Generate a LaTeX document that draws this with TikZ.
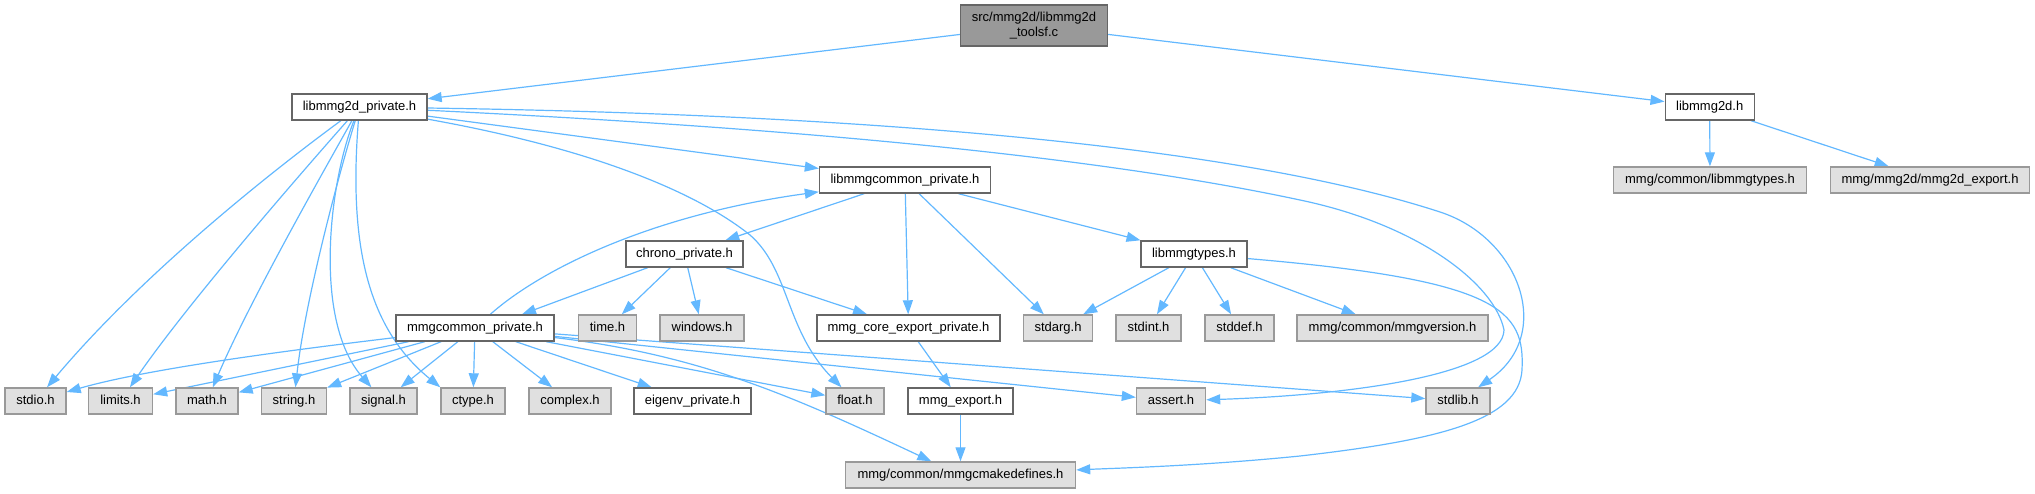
\documentclass[tikz,border=0pt]{standalone}
\usepackage{fontspec}
\setmainfont{Liberation Sans}
\usetikzlibrary{arrows.meta}
\definecolor{edgec}{HTML}{63B8FF}
\definecolor{darkb}{HTML}{666666}
\definecolor{lightb}{HTML}{999999}
\definecolor{grayfill}{HTML}{E0E0E0}
\definecolor{rootfill}{HTML}{999999}
\pgfdeclarelayer{bg}
\pgfsetlayers{bg,main}
\begin{document}
\begin{tikzpicture}[x=0.5pt,y=-0.5pt,
  font=\fontsize{6.5}{7.3}\selectfont,
  nbox/.style={line width=0.7pt, inner sep=0pt, minimum height=13pt, text height=4.7pt, text depth=1.4pt},
  wnode/.style={nbox, draw=darkb, fill=white},
  gnode/.style={nbox, draw=lightb, fill=grayfill},
  bw/.style={minimum width=#1*0.5pt},
  dep/.style={draw=edgec, line width=0.6pt, -{Triangle[length=7pt,width=5pt]}},
]
\useasboundingbox (0,0) rectangle (2035,493);
% nodes
\node[line width=0.7pt, inner sep=0pt, draw=darkb, fill=rootfill, bw=147, minimum height=20.5pt, align=center] (root) at (1034,25.5) {src/mmg2d/libmmg2d\\\_toolsf.c};
\node[wnode,bw=135] (l2dp) at (359.5,107) {libmmg2d\_private.h};
\node[wnode,bw=89] (l2d) at (1709.7,107) {libmmg2d.h};
\node[gnode,bw=193] (mlt) at (1710,180) {mmg/common/libmmgtypes.h};
\node[gnode,bw=199] (m2e) at (1930,180) {mmg/mmg2d/mmg2d\_export.h};
\node[wnode,bw=171] (lcp) at (905,180) {libmmgcommon\_private.h};
\node[wnode,bw=106] (ltypes) at (1194,254) {libmmgtypes.h};
\node[wnode,bw=117] (chrono) at (684.5,254) {chrono\_private.h};
\node[wnode,bw=158] (mcp) at (475,328) {mmgcommon\_private.h};
\node[gnode,bw=58] (time) at (607.5,328) {time.h};
\node[gnode,bw=84] (windows) at (702,328) {windows.h};
\node[wnode,bw=183] (mcep) at (908.5,328) {mmg\_core\_export\_private.h};
\node[gnode,bw=69] (stdarg) at (1058,328) {stdarg.h};
\node[gnode,bw=65] (stdint) at (1148.5,328) {stdint.h};
\node[gnode,bw=69] (stddef) at (1239.5,328) {stddef.h};
\node[gnode,bw=191] (mver) at (1392.5,328) {mmg/common/mmgversion.h};
\node[gnode,bw=61] (stdio) at (35.5,401) {stdio.h};
\node[gnode,bw=64] (limits) at (120.5,401) {limits.h};
\node[gnode,bw=62] (math) at (207,401) {math.h};
\node[gnode,bw=65] (string) at (294,401) {string.h};
\node[gnode,bw=67] (signal) at (383.5,401) {signal.h};
\node[gnode,bw=64] (ctype) at (473,401) {ctype.h};
\node[gnode,bw=82] (complex) at (570,401) {complex.h};
\node[wnode,bw=117] (eigenv) at (692.5,401) {eigenv\_private.h};
\node[gnode,bw=58] (float) at (855,401) {float.h};
\node[wnode,bw=105] (mexp) at (960.5,401) {mmg\_export.h};
\node[gnode,bw=69] (assert) at (1171,401) {assert.h};
\node[gnode,bw=64] (stdlib) at (1458,401) {stdlib.h};
\node[gnode,bw=230] (mcmake) at (960.5,475) {mmg/common/mmgcmakedefines.h};
% edges
\begin{pgfonlayer}{bg}
\draw[dep] (root) -- (l2dp);
\draw[dep] (root) -- (l2d);
\draw[dep] (l2d) -- (mlt);
\draw[dep] (l2d) -- (m2e);
\draw[dep] (l2dp) -- (lcp);
\draw[dep] (l2dp) .. controls (290,158) and (150,265) .. (stdio);
\draw[dep] (l2dp) .. controls (310,163) and (190,300) .. (limits);
\draw[dep] (l2dp) .. controls (330,160) and (250,300) .. (math);
\draw[dep] (l2dp) .. controls (340,170) and (305,300) .. (string);
\draw[dep] (l2dp) .. controls (330,180) and (312,320) .. (signal);
\draw[dep] (l2dp) .. controls (348,250) and (370,330) .. (ctype.north west);
\draw[dep] (l2dp) .. controls (600,150) and (700,195) .. (750,235) .. controls (790,270) and (785,330) .. (float);
\draw[dep] (l2dp) .. controls (900,115) and (1250,150) .. (1440,212) .. controls (1520,238) and (1555,335) .. (stdlib);
\draw[dep] (l2dp) .. controls (900,133) and (1150,168) .. (1300,200) .. controls (1420,225) and (1495,285) .. (1504,330) .. controls (1503,375) and (1350,395) .. (assert);
\draw[dep] (lcp) -- (chrono);
\draw[dep] (lcp) -- (mcep);
\draw[dep] (lcp) -- (stdarg);
\draw[dep] (lcp) -- (ltypes);
\draw[dep] (chrono) -- ([xshift=23.5pt]mcp.north);
\draw[dep] (chrono) -- (time);
\draw[dep] (chrono) -- (windows);
\draw[dep] (chrono) -- (mcep);
\draw[dep] (ltypes) -- (stdarg);
\draw[dep] (ltypes) -- (stdint);
\draw[dep] (ltypes) -- (stddef);
\draw[dep] (ltypes) -- (mver);
\draw[dep] (ltypes) .. controls (1500,280) and (1525,310) .. (1522,370) .. controls (1519,420) and (1440,440) .. (1300,456) .. controls (1200,466) and (1120,468) .. (mcmake);
\draw[dep] (mcep) -- (mexp);
\draw[dep] (mexp) -- (mcmake);
\draw[dep] (mcp) .. controls (540,270) and (650,215) .. (lcp);
\draw[dep] (mcp) .. controls (300,349) and (150,368) .. (stdio);
\draw[dep] (mcp) -- (limits);
\draw[dep] (mcp) -- (math);
\draw[dep] (mcp) -- (string);
\draw[dep] (mcp) -- (signal);
\draw[dep] (mcp) -- (ctype);
\draw[dep] (mcp) -- (complex);
\draw[dep] (mcp) -- (eigenv);
\draw[dep] (mcp) -- (float);
\draw[dep] (mcp) -- (assert);
\draw[dep] (mcp) -- (stdlib);
\draw[dep] (mcp) .. controls (700,355) and (790,395) .. (mcmake);
\end{pgfonlayer}
\end{tikzpicture}
\end{document}
